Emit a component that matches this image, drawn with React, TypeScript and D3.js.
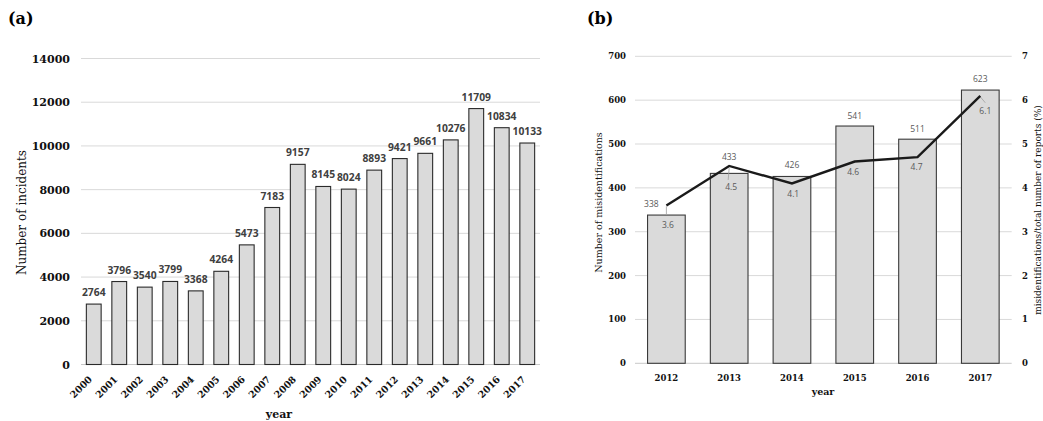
import React from "react";
import * as d3 from "d3";

// Panel (a) data
const yearsA = ["2000","2001","2002","2003","2004","2005","2006","2007","2008","2009","2010","2011","2012","2013","2014","2015","2016","2017"];
const incidents = [2764,3796,3540,3799,3368,4264,5473,7183,9157,8145,8024,8893,9421,9661,10276,11709,10834,10133];
const ticksA = [0,2000,4000,6000,8000,10000,12000,14000];

// Panel (b) data
const yearsB = ["2012","2013","2014","2015","2016","2017"];
const misid = [338,433,426,541,511,623];
const ratio = [3.6,4.5,4.1,4.6,4.7,6.1];
const ticksBL = [0,100,200,300,400,500,600,700];
const ticksBR = [0,1,2,3,4,5,6,7];

// label layout offsets (Excel-style data label placement)
const barLabelOff = [[-15,-7.6],[0,-13.2],[0,-8],[0,-7.5],[0,-6.7],[0,-7.6]];
const lineLabelOff = [[1.5,23],[2,24],[1.3,14],[-1.5,13.5],[-1,13],[5,18]];

const serif = "'DejaVu Serif', serif";
const sans = "'Open Sans', sans-serif";

export default function App() {
  // Panel A scales
  const yA = d3.scaleLinear().domain([0, 14000]).range([364.5, 58.5]);
  const xA = d3.scaleBand<string>().domain(yearsA).range([81, 540]).paddingInner(0.42).paddingOuter(0.21);
  // Panel B scales
  const yB = d3.scaleLinear().domain([0, 700]).range([363.3, 56.3]);
  const yR = d3.scaleLinear().domain([0, 7]).range([363.3, 56.3]);
  const xB = d3.scaleBand<string>().domain(yearsB).range([635, 1011.7]).paddingInner(0.4).paddingOuter(0.2);
  const cxB = (y: string) => (xB(y) as number) + xB.bandwidth() / 2;
  const line = d3.line<number>().x((_, i) => cxB(yearsB[i])).y((d) => yR(d));

  return (
    <svg width={1043} height={421} style={{ position: "absolute", left: 0, top: 0, background: "#fff" }}>
      {/* Panel (a) */}
      <text x={8} y={24} fontFamily={serif} fontWeight="bold" fontSize={16}>(a)</text>
      {ticksA.map((t) => (
        <g key={"ga" + t}>
          <line x1={81} x2={540} y1={yA(t)} y2={yA(t)} stroke={t === 0 ? "#c8c8c8" : "#d9d9d9"} strokeWidth={1} />
          <text x={70} y={yA(t) + 4} textAnchor="end" fontFamily={serif} fontWeight="bold" fontSize={11} fill="#111">{t}</text>
        </g>
      ))}
      {yearsA.map((y, i) => {
        const x = xA(y) as number;
        const top = yA(incidents[i]);
        const cx = x + xA.bandwidth() / 2;
        return (
          <g key={"ba" + y}>
            <rect x={x} y={top} width={xA.bandwidth()} height={yA(0) - top} fill="#dadada" stroke="#2a2a2a" strokeWidth={1.1} />
            <text x={cx} y={top - 8} textAnchor="middle" fontFamily={sans} fontWeight="bold" fontSize={10.3} fill="#404040">{incidents[i]}</text>
            <text transform={`translate(${cx - 1},${380}) rotate(-45)`} textAnchor="end" fontFamily={serif} fontWeight="bold" fontSize={9.5} fill="#111">{y}</text>
          </g>
        );
      })}
      <text transform="translate(26,212.5) rotate(-90)" textAnchor="middle" fontFamily={serif} fontSize={12} fill="#111">Number of incidents</text>
      <text x={279} y={418} textAnchor="middle" fontFamily={serif} fontWeight="bold" fontSize={11} fill="#111">year</text>

      {/* Panel (b) */}
      <text x={587} y={24} fontFamily={serif} fontWeight="bold" fontSize={16}>(b)</text>
      {ticksBL.map((t) => (
        <g key={"gb" + t}>
          <line x1={635} x2={1011.7} y1={yB(t)} y2={yB(t)} stroke={t === 0 ? "#c8c8c8" : "#d9d9d9"} strokeWidth={1} />
          <text x={626} y={yB(t) + 3} textAnchor="end" fontFamily={serif} fontWeight="bold" fontSize={8.5} fill="#111">{t}</text>
        </g>
      ))}
      {ticksBR.map((t) => (
        <text key={"rb" + t} x={1022} y={yR(t) + 3} textAnchor="start" fontFamily={serif} fontWeight="bold" fontSize={8.5} fill="#111">{t}</text>
      ))}
      {yearsB.map((y, i) => {
        const x = xB(y) as number;
        const top = yB(misid[i]);
        return (
          <g key={"bb" + y}>
            <rect x={x} y={top} width={xB.bandwidth()} height={yB(0) - top} fill="#dadada" stroke="#3a3a3a" strokeWidth={1.1} />
            <text x={cxB(y)} y={381} textAnchor="middle" fontFamily={serif} fontWeight="bold" fontSize={8.5} fill="#111">{y}</text>
          </g>
        );
      })}
      {/* leader lines */}
      <line x1={cxB("2012")} x2={cxB("2012")} y1={yB(misid[0])} y2={yR(ratio[0]) + 1} stroke="#a0a0a0" strokeWidth={0.8} />
      <line x1={cxB("2013")} x2={cxB("2013") - 1} y1={yR(ratio[1]) + 2} y2={yR(ratio[1]) + 14} stroke="#a0a0a0" strokeWidth={0.8} />
      <line x1={cxB("2017")} x2={cxB("2017") + 5} y1={yR(ratio[5]) + 1} y2={yR(ratio[5]) + 7} stroke="#a0a0a0" strokeWidth={0.8} />
      <path d={line(ratio) as string} fill="none" stroke="#1a1a1a" strokeWidth={2.4} strokeLinejoin="miter" />
      {yearsB.map((y, i) => (
        <g key={"lb" + y}>
          <text x={cxB(y) + barLabelOff[i][0]} y={yB(misid[i]) + barLabelOff[i][1]} textAnchor="middle" fontFamily={sans} fontSize={8.5} fill="#595959">{misid[i]}</text>
          <text x={cxB(y) + lineLabelOff[i][0]} y={yR(ratio[i]) + lineLabelOff[i][1]} textAnchor="middle" fontFamily={sans} fontSize={8.5} fill="#595959">{ratio[i].toFixed(1)}</text>
        </g>
      ))}
      <text transform="translate(601.5,202.5) rotate(-90)" textAnchor="middle" fontFamily={serif} fontSize={9.5} fill="#111">Number of misidentifications</text>
      <text transform="translate(1041,210) rotate(-90)" textAnchor="middle" fontFamily={serif} fontSize={9} fill="#111">misidentifications/total number of reports (%)</text>
      <text x={823} y={395} textAnchor="middle" fontFamily={serif} fontWeight="bold" fontSize={9.5} fill="#111">year</text>
    </svg>
  );
}
